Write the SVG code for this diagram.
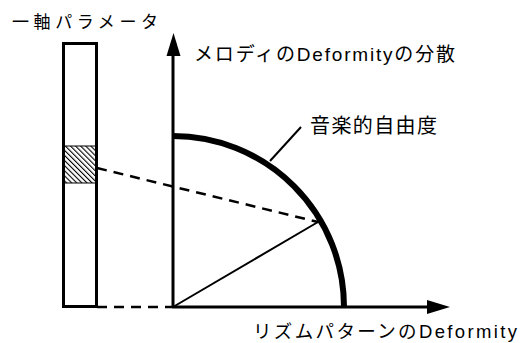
<svg xmlns="http://www.w3.org/2000/svg" width="520" height="343" viewBox="0 0 520 343">
<style>
text{font-family:"Liberation Sans","Noto Sans CJK JP",sans-serif;fill:#000}
.ln{stroke:#000;fill:none}
.dash{stroke:#000;stroke-width:2.5;stroke-dasharray:10 7;fill:none}
</style>
<defs>
<pattern id="hatch" patternUnits="userSpaceOnUse" width="3.6" height="3.6" patternTransform="rotate(-45)">
<rect width="3.6" height="3.6" fill="#fff"/>
<line x1="0" y1="0" x2="0" y2="3.6" stroke="#000" stroke-width="2.2"/>
</pattern>
</defs>
<rect width="520" height="343" fill="#fff"/>
<g id="param-bar">
<rect x="64" y="146" width="32" height="37" fill="url(#hatch)" stroke="#000" stroke-width="1"/>
<rect x="63.5" y="43.5" width="33" height="263" class="ln" stroke-width="3"/>
<text x="12" y="28" font-size="17" textLength="146" lengthAdjust="spacing">一軸パラメータ</text>
</g>
<g id="axes">
<line x1="173" y1="308" x2="173" y2="54" class="ln" stroke-width="3"/>
<polygon points="173.5,33 166.5,56 180.5,56" fill="#000"/>
<line x1="172" y1="307" x2="429" y2="307" class="ln" stroke-width="3"/>
<polygon points="450,307 427,300 427,314" fill="#000"/>
<text x="194" y="61" font-size="19" textLength="261" lengthAdjust="spacing">メロディのDeformityの分散</text>
<text x="253" y="338" font-size="18.5" textLength="264" lengthAdjust="spacing">リズムパターンのDeformity</text>
</g>
<g id="freedom-arc">
<path d="M173,136 A171,171 0 0 1 344,307" class="ln" stroke-width="6"/>
<text x="310" y="133" font-size="20" textLength="127" lengthAdjust="spacing">音楽的自由度</text>
</g>
<g id="connectors">
<line x1="97" y1="168" x2="318" y2="222" class="dash"/>
<line x1="97" y1="307" x2="172" y2="307" class="dash"/>
<line x1="173" y1="307" x2="318" y2="222" class="ln" stroke-width="2"/>
<line x1="270" y1="161" x2="301" y2="127" class="ln" stroke-width="2"/>
</g>
</svg>
